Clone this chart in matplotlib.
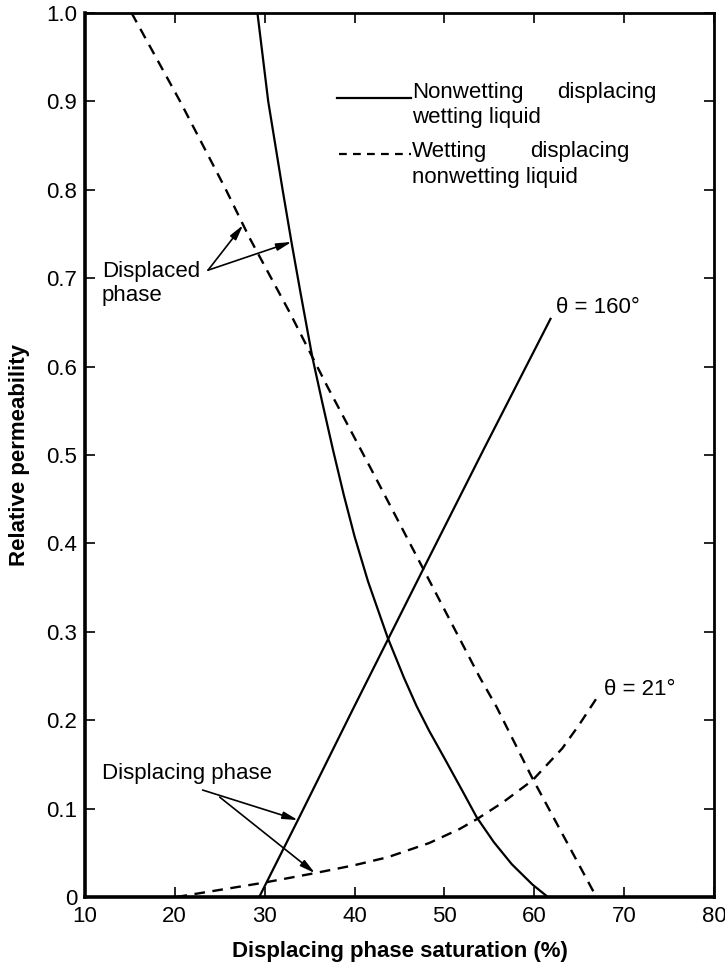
import matplotlib
matplotlib.use("Agg")
import matplotlib.pyplot as plt

plt.rcParams["font.family"] = ["Liberation Sans", "DejaVu Sans"]

# Nonwetting displacing wetting liquid: displaced (wetting) phase
drain_displaced_x = [29.2, 30.4, 32.0, 33.0, 34.0, 35.3, 36.4, 37.6, 38.8,
                     40.0, 41.5, 43.7, 45.5, 46.9, 48.3, 50.0, 52.0, 53.6,
                     55.5, 57.5, 59.8, 61.5]
drain_displaced_y = [1.0, 0.90, 0.80, 0.74, 0.683, 0.611, 0.560, 0.506,
                     0.455, 0.408, 0.357, 0.293, 0.248, 0.216, 0.188, 0.157,
                     0.120, 0.090, 0.062, 0.037, 0.014, 0.0]

# Nonwetting displacing phase, theta = 160 deg
drain_displacing_x = [29.4, 33.7, 39.8, 43.7, 47.6, 54.4, 61.8]
drain_displacing_y = [0.0, 0.087, 0.212, 0.291, 0.370, 0.507, 0.654]

# Wetting displacing nonwetting liquid: displaced (nonwetting) phase
imb_displaced_x = [15.2, 20.6, 25.7, 28.3, 32.8, 35.3, 37.0, 41.9, 47.6,
                   53.9, 55.8, 59.8, 66.9]
imb_displaced_y = [1.0, 0.9, 0.8, 0.746, 0.661, 0.611, 0.577, 0.483, 0.372,
                   0.249, 0.215, 0.134, 0.0]

# Wetting displacing phase, theta = 21 deg
imb_displacing_x = [20.2, 25.0, 29.8, 35.6, 40.0, 43.7, 48.3, 51.7, 53.6,
                    56.5, 59.8, 63.1, 65.0, 67.0]
imb_displacing_y = [0.0, 0.008, 0.016, 0.027, 0.036, 0.045, 0.061, 0.077,
                    0.088, 0.107, 0.132, 0.168, 0.195, 0.226]

x_ticks = [10, 20, 30, 40, 50, 60, 70, 80]
y_ticks = [0, 0.1, 0.2, 0.3, 0.4, 0.5, 0.6, 0.7, 0.8, 0.9, 1.0]
y_tick_labels = ["0", "0.1", "0.2", "0.3", "0.4", "0.5", "0.6", "0.7",
                 "0.8", "0.9", "1.0"]

FS = 16
dash = (0, (4.5, 3.2))

fig = plt.figure(figsize=(7.25, 9.67), dpi=100)
ax = fig.add_axes([0.117, 0.0724, 0.868, 0.9142])

ax.plot(drain_displaced_x, drain_displaced_y, color="black", lw=1.6)
ax.plot(drain_displacing_x, drain_displacing_y, color="black", lw=1.6)
ax.plot(imb_displaced_x, imb_displaced_y, color="black", lw=1.7,
        linestyle=dash)
ax.plot(imb_displacing_x, imb_displacing_y, color="black", lw=1.7,
        linestyle=dash)

ax.set_xlim(10, 80)
ax.set_ylim(0, 1.0)
ax.set_xticks(x_ticks)
ax.set_xticklabels([str(t) for t in x_ticks])
ax.set_yticks(y_ticks)
ax.set_yticklabels(y_tick_labels)
ax.tick_params(direction="in", length=7, width=1.2, labelsize=FS,
               top=True, right=True)
ax.tick_params(axis="x", pad=6.5)
ax.tick_params(axis="y", pad=5.5)
for side in ["left", "bottom"]:
    ax.spines[side].set_linewidth(2.6)
for side in ["top", "right"]:
    ax.spines[side].set_linewidth(2.0)

ax.set_xlabel("Displacing phase saturation (%)", fontsize=FS,
              fontweight="bold")
ax.set_ylabel("Relative permeability", fontsize=FS, fontweight="bold")
ax.xaxis.set_label_coords(0.5, -0.05)
ax.yaxis.set_label_coords(-0.087, 0.5)

# legend drawn by hand, justified two-line entries
ax.plot([38.1, 46.3], [0.904, 0.904], color="black", lw=1.6)
ax.text(46.4, 0.904, "Nonwetting", fontsize=FS, va="baseline", ha="left")
ax.text(73.6, 0.904, "displacing", fontsize=FS, va="baseline", ha="right")
ax.text(46.4, 0.876, "wetting liquid", fontsize=FS, va="baseline", ha="left")

ax.plot([38.3, 46.3], [0.840, 0.840], color="black", lw=1.6,
        linestyle=(0, (3.5, 2.8)))
ax.text(46.4, 0.837, "Wetting", fontsize=FS, va="baseline", ha="left")
ax.text(70.6, 0.837, "displacing", fontsize=FS, va="baseline", ha="right")
ax.text(46.4, 0.808, "nonwetting liquid", fontsize=FS, va="baseline",
        ha="left")

# curve labels
ax.text(62.4, 0.667, "θ = 160°", fontsize=FS, va="center", ha="left")
ax.text(67.8, 0.235, "θ = 21°", fontsize=FS, va="center", ha="left")

arrow = dict(arrowstyle="-|>,head_length=0.9,head_width=0.22",
             color="black", lw=1.2, shrinkA=0, shrinkB=0)

ax.text(11.9, 0.694, "Displaced\nphase", fontsize=FS, va="center",
        ha="left", linespacing=1.15)
ax.annotate("", xy=(27.6, 0.760), xytext=(23.7, 0.709), arrowprops=arrow)
ax.annotate("", xy=(33.0, 0.741), xytext=(23.7, 0.709), arrowprops=arrow)

ax.text(11.9, 0.140, "Displacing phase", fontsize=FS, va="center",
        ha="left")
ax.annotate("", xy=(33.7, 0.087), xytext=(23.1, 0.121), arrowprops=arrow)
ax.annotate("", xy=(35.6, 0.027), xytext=(25.0, 0.113), arrowprops=arrow)

fig.savefig("out.png", dpi=100)
